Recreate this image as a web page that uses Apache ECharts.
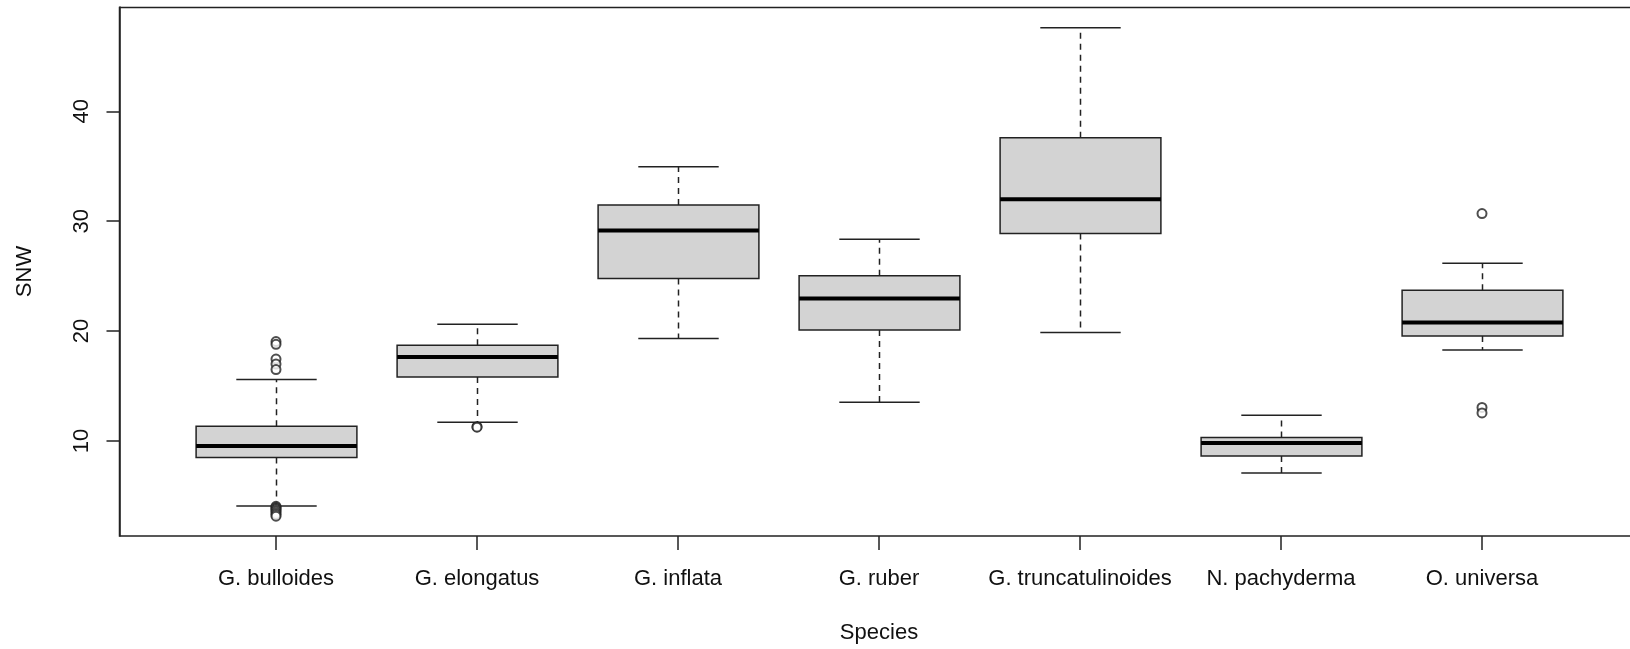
<!DOCTYPE html>
<html>
<head>
<meta charset="utf-8">
<title>SNW by species</title>
<script src="https://cdn.jsdelivr.net/npm/echarts@6/dist/echarts.min.js"></script>
<style>
  html, body { margin: 0; padding: 0; background: #fff; }
  #chart { width: 1630px; height: 649px; }
</style>
</head>
<body>
<div id="chart"></div>
<script>
  // data
  var categories = ['G. bulloides', 'G. elongatus', 'G. inflata', 'G. ruber', 'G. truncatulinoides', 'N. pachyderma', 'O. universa'];
  var lowWhisker = [4.08, 11.70, 19.33, 13.52, 19.87, 7.09, 18.29];
  var q1 = [8.49, 15.83, 24.79, 20.11, 28.89, 8.63, 19.56];
  var median = [9.55, 17.65, 29.16, 22.97, 32.01, 9.82, 20.78];
  var q3 = [11.34, 18.72, 31.47, 25.03, 37.60, 10.31, 23.72];
  var highWhisker = [15.59, 20.63, 34.95, 28.37, 47.61, 12.34, 26.18];
  // outliers as [category index, value]
  var outliers = [
    [0, 19.05], [0, 18.8], [0, 17.45], [0, 17.0], [0, 16.5],
    [0, 4.05], [0, 3.95], [0, 3.85], [0, 3.75], [0, 3.6], [0, 3.45], [0, 3.3], [0, 3.15],
    [1, 11.3], [1, 11.25],
    [6, 30.7], [6, 13.05], [6, 12.55]
  ];
  var yTicks = [10, 20, 30, 40];

  var font = '"Liberation Sans", Arial, sans-serif';
  var lineColor = '#222';

  var boxData = [];
  for (var i = 0; i < categories.length; i++) {
    boxData.push([i, lowWhisker[i], q1[i], median[i], q3[i], highWhisker[i]]);
  }

  function renderBox (params, api) {
    var idx = api.value(0);
    var band = api.size([1, 0])[0];
    var half = band * 0.4;
    var cap = band * 0.2;
    var low = api.coord([idx, api.value(1)]);
    var pQ1 = api.coord([idx, api.value(2)]);
    var pMed = api.coord([idx, api.value(3)]);
    var pQ3 = api.coord([idx, api.value(4)]);
    var high = api.coord([idx, api.value(5)]);
    var cx = Math.round(low[0]) + 0.5;
    var dashed = { stroke: lineColor, lineWidth: 1.5, lineDash: [6, 5] };
    var solid = { stroke: lineColor, lineWidth: 1.5 };
    return {
      type: 'group',
      children: [
        { type: 'line', shape: { x1: cx, y1: pQ3[1], x2: cx, y2: high[1] }, style: dashed },
        { type: 'line', shape: { x1: cx, y1: pQ1[1], x2: cx, y2: low[1] }, style: dashed },
        { type: 'line', shape: { x1: cx - cap, y1: high[1], x2: cx + cap, y2: high[1] }, style: solid },
        { type: 'line', shape: { x1: cx - cap, y1: low[1], x2: cx + cap, y2: low[1] }, style: solid },
        {
          type: 'rect',
          shape: { x: cx - half, y: pQ3[1], width: half * 2, height: pQ1[1] - pQ3[1] },
          style: { fill: '#d3d3d3', stroke: lineColor, lineWidth: 1.5 }
        },
        { type: 'line', shape: { x1: cx - half, y1: pMed[1], x2: cx + half, y2: pMed[1] }, style: { stroke: '#000', lineWidth: 4 } }
      ]
    };
  }

  var myChart = echarts.init(document.getElementById('chart'));
  myChart.setOption({
    animation: false,
    backgroundColor: '#fff',
    textStyle: { fontFamily: font },
    grid: {
      left: 175.5,
      right: 47.5,
      top: 7,
      bottom: 113,
      containLabel: false
    },
    // plot frame (right side runs off the picture, as in the original)
    graphic: [{
      type: 'rect',
      shape: { x: 119.5, y: 7.5, width: 1540, height: 528.5 },
      style: { fill: null, stroke: lineColor, lineWidth: 1.5 },
      z: 10
    }],
    xAxis: {
      type: 'category',
      data: categories,
      boundaryGap: true,
      name: 'Species',
      nameLocation: 'middle',
      nameGap: 86,
      nameTextStyle: { color: '#111', fontSize: 22, fontFamily: font },
      axisLine: { show: false },
      axisTick: { show: true, alignWithLabel: true, length: 14, lineStyle: { color: lineColor, width: 1.5 } },
      axisLabel: { color: '#111', fontSize: 22, fontFamily: font, margin: 32, interval: 0 },
      splitLine: { show: false }
    },
    yAxis: {
      type: 'value',
      min: 1.35,
      max: 49.5,
      offset: 56,
      name: 'SNW',
      nameLocation: 'middle',
      nameRotate: 90,
      nameGap: 84,
      nameTextStyle: { color: '#111', fontSize: 22, fontFamily: font },
      axisLine: { show: true, lineStyle: { color: lineColor, width: 1.5 } },
      axisTick: { show: true, length: 13, customValues: yTicks, lineStyle: { color: lineColor, width: 1.5 } },
      axisLabel: { color: '#111', fontSize: 22, fontFamily: font, rotate: 90, margin: 27, customValues: yTicks },
      splitLine: { show: false }
    },
    series: [{
      type: 'custom',
      renderItem: renderBox,
      encode: { x: 0, y: [1, 2, 3, 4, 5] },
      data: boxData,
      z: 2
    }, {
      type: 'scatter',
      symbol: 'emptyCircle',
      symbolSize: 9,
      itemStyle: { color: lineColor, borderColor: lineColor, borderWidth: 1.5 },
      data: outliers,
      z: 3
    }]
  });
</script>
</body>
</html>
